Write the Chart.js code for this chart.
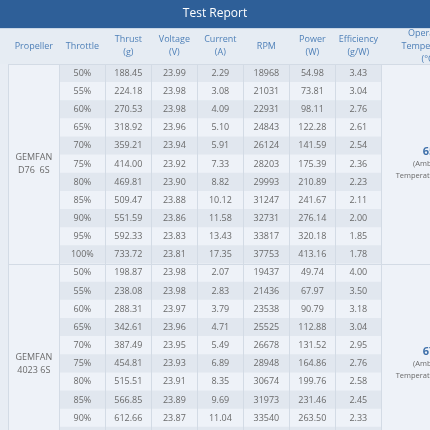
<!DOCTYPE html>
<html>
<head>
<meta charset="utf-8">
<script src="https://cdn.jsdelivr.net/npm/chart.js@4.4.1/dist/chart.umd.min.js"></script>
<style>
  html, body { margin: 0; padding: 0; background: #e8edf4; }
  #wrap { width: 430px; height: 430px; }
</style>
</head>
<body>
<div id="wrap"><canvas id="myChart" width="430" height="430"></canvas></div>
<script>
// data
const reportTitle = 'Test Report';
const headers = [
  ['Propeller'], ['Throttle'], ['Thrust', '(g)'], ['Voltage', '(V)'], ['Current', '(A)'],
  ['RPM'], ['Power', '(W)'], ['Efficiency', '(g/W)'], ['Operating', 'Temperature', '(°C)']
];
const propellers = [['GEMFAN', 'D76  6S'], ['GEMFAN', '4023 6S']];
const temps = ['65', '67'];
const tempNote = ['(Ambient', 'Temperature 25°C)'];
const throttle = ['50%', '55%', '60%', '65%', '70%', '75%', '80%', '85%', '90%', '95%', '100%'];

// GEMFAN D76 6S
const thrustA  = [188.45, 224.18, 270.53, 318.92, 359.21, 414.00, 469.81, 509.47, 551.59, 592.33, 733.72];
const voltA    = [23.99, 23.98, 23.98, 23.96, 23.94, 23.92, 23.90, 23.88, 23.86, 23.83, 23.81];
const currentA = [2.29, 3.08, 4.09, 5.10, 5.91, 7.33, 8.82, 10.12, 11.58, 13.43, 17.35];
const rpmA     = [18968, 21031, 22931, 24843, 26124, 28203, 29993, 31247, 32731, 33817, 37753];
const powerA   = [54.98, 73.81, 98.11, 122.28, 141.59, 175.39, 210.89, 241.67, 276.14, 320.18, 413.16];
const effA     = [3.43, 3.04, 2.76, 2.61, 2.54, 2.36, 2.23, 2.11, 2.00, 1.85, 1.78];

// GEMFAN 4023 6S (last rows cut off in the picture)
const thrustB  = [198.87, 238.08, 288.31, 342.61, 387.49, 454.81, 515.51, 566.85, 612.66];
const voltB    = [23.98, 23.98, 23.97, 23.96, 23.95, 23.93, 23.91, 23.89, 23.87];
const currentB = [2.07, 2.83, 3.79, 4.71, 5.49, 6.89, 8.35, 9.69, 11.04];
const rpmB     = [19437, 21436, 23538, 25525, 26678, 28948, 30674, 31973, 33540];
const powerB   = [49.74, 67.97, 90.79, 112.88, 131.52, 164.86, 199.76, 231.46, 263.50];
const effB     = [4.00, 3.50, 3.18, 3.04, 2.95, 2.76, 2.58, 2.45, 2.33];

// layout
const colW = [1.11, 1, 1, 1, 1, 1, 1, 1, 2.07];   // in column units
const edge = i => colW.slice(0, i).reduce((a, b) => a + b, 0);
const titleH = 28, headH = 36, rowPx = 18.15;
const font = '"Open Sans", sans-serif';

const groups = [
  [thrustA, voltA, currentA, rpmA, powerA, effA],
  [thrustB, voltB, currentB, rpmB, powerB, effB]
];
const nRows = throttle.length * groups.length;
const rowIdx = Array.from({ length: nRows }, (_, i) => i);

const fmt = (v, c) => v == null ? '' : (c === 3 ? String(v) : v.toFixed(2));

const tablePlugin = {
  id: 'tableDraw',
  beforeDatasetsDraw(chart) {
    const { ctx, chartArea: ca, scales: { x, y } } = chart;
    ctx.save();
    ctx.fillStyle = '#e8edf4';
    ctx.fillRect(0, 0, chart.width, chart.height);
    // title
    ctx.fillStyle = '#2e5f98';
    ctx.fillRect(0, 0, chart.width, titleH);
    ctx.fillStyle = '#ffffff';
    ctx.font = '12px ' + font;
    ctx.textAlign = 'center';
    ctx.textBaseline = 'middle';
    ctx.fillText(reportTitle, chart.width / 2, titleH / 2);
    // header
    ctx.fillStyle = '#e6ecf3';
    ctx.fillRect(0, titleH, chart.width, headH);
    ctx.fillStyle = '#c9d6e5';
    ctx.fillRect(0, titleH, chart.width, 1);
    // merged cells
    ctx.fillStyle = '#eef2f8';
    const x0 = x.getPixelForValue(edge(0)), x1 = x.getPixelForValue(edge(1));
    const x8 = x.getPixelForValue(edge(8)), x9 = x.getPixelForValue(edge(9));
    ctx.fillRect(x0, ca.top, x1 - x0, ca.bottom - ca.top);
    ctx.fillRect(x8, ca.top, x9 - x8, ca.bottom - ca.top);
    ctx.restore();
  },
  afterDatasetsDraw(chart) {
    const { ctx, chartArea: ca, scales: { x, y } } = chart;
    ctx.save();
    // lines
    ctx.strokeStyle = '#d3dbe5';
    ctx.lineWidth = 1;
    for (let i = 0; i <= 8; i++) {
      const px = Math.round(x.getPixelForValue(edge(i))) + 0.5;
      ctx.beginPath(); ctx.moveTo(px, ca.top); ctx.lineTo(px, ca.bottom); ctx.stroke();
    }
    for (let g = 0; g <= groups.length; g++) {
      const py = Math.round(y.getPixelForValue(g * throttle.length)) + 0.5;
      ctx.beginPath(); ctx.moveTo(x.getPixelForValue(edge(0)), py); ctx.lineTo(ca.right, py); ctx.stroke();
    }
    ctx.textAlign = 'center';
    ctx.textBaseline = 'middle';
    // header text
    ctx.fillStyle = '#4f80b8';
    ctx.font = '9px ' + font;
    headers.forEach((lines, c) => {
      const cx = x.getPixelForValue(edge(c) + colW[c] / 2);
      const cy = titleH + headH / 2;
      lines.forEach((t, k) => ctx.fillText(t, cx, cy + (k - (lines.length - 1) / 2) * 13));
    });
    // body
    groups.forEach((cols, g) => {
      const r0 = g * throttle.length;
      const mid = y.getPixelForValue(r0 + throttle.length / 2);
      ctx.fillStyle = '#6a6a6a';
      ctx.font = '9px ' + font;
      const pcx = x.getPixelForValue(edge(0) + colW[0] / 2);
      propellers[g].forEach((t, k) => ctx.fillText(t, pcx, mid + (k - 0.5) * 13));
      throttle.forEach((t, r) => {
        const cy = y.getPixelForValue(r0 + r + 0.5);
        ctx.fillText(t, x.getPixelForValue(edge(1) + 0.5), cy);
        cols.forEach((arr, c) => {
          ctx.fillText(fmt(arr[r], c), x.getPixelForValue(edge(c + 2) + 0.5), cy);
        });
      });
      const tcx = x.getPixelForValue(edge(8) + colW[8] / 2);
      ctx.fillStyle = '#3e70aa';
      ctx.font = 'bold 11px ' + font;
      ctx.fillText(temps[g], tcx, mid - 12);
      ctx.fillStyle = '#6a6a6a';
      ctx.font = '7.5px ' + font;
      ctx.fillText(tempNote[0], tcx, mid);
      ctx.fillText(tempNote[1], tcx, mid + 12);
    });
    ctx.restore();
  }
};

new Chart(document.getElementById('myChart'), {
  type: 'bar',
  data: {
    datasets: [{
      data: rowIdx.map(i => ({ x: [edge(1), edge(8)], y: i + 0.5 })),
      backgroundColor: rowIdx.map(i => i % 2 ? '#eef2f8' : '#e1e7ef'),
      borderWidth: 0,
      barPercentage: 1,
      categoryPercentage: 1,
    }],
  },
  options: {
    indexAxis: 'y',
    responsive: false,
    animation: false,
    events: [],
    layout: { padding: { top: titleH + headH + 0.2, left: 0, right: 0, bottom: 0 } },
    scales: {
      x: { type: 'linear', display: false, min: -8.3 / 46, max: (430 - 8.3) / 46 },
      y: {
        type: 'linear', display: false, reverse: true, offset: false, min: 0,
        max: (430 - titleH - headH - 0.2) / rowPx,
        grid: { offset: false },
        ticks: { stepSize: 1, includeBounds: false },
      },
    },
    plugins: { legend: { display: false }, tooltip: { enabled: false } },
  },
  plugins: [tablePlugin],
});
</script>
</body>
</html>
